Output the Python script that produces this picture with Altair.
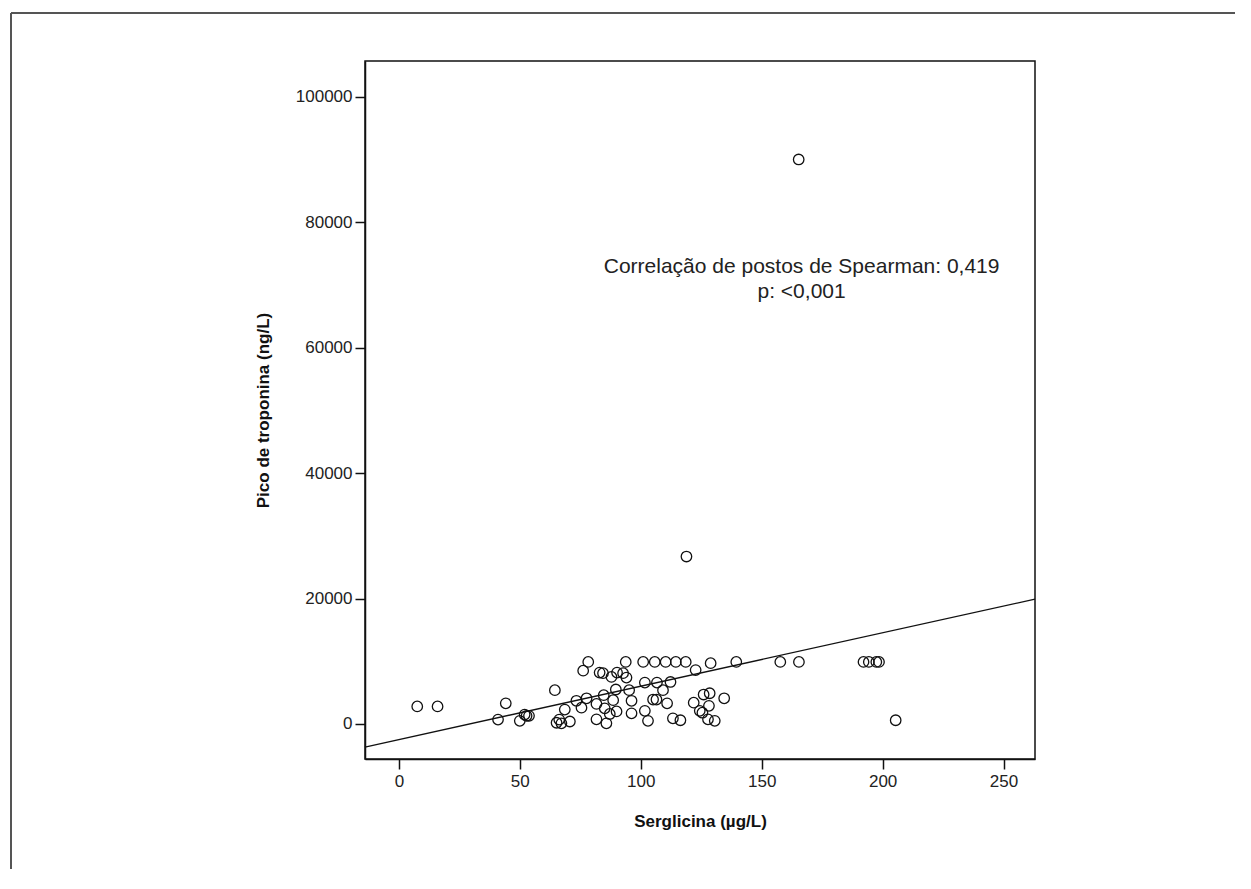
import altair as alt
import pandas as pd

# Serglicina (µg/L)
serglicina = [7.6, 16, 41, 44.2, 50, 52, 52.8, 53.8, 64.5, 65.2, 66.3, 67.2, 68.6, 70.7,
              73.4, 75.5, 76.2, 77.6, 78.3, 81.7, 81.7, 83, 84.4, 84.7, 85.1, 85.8, 87.2,
              87.9, 88.6, 89.7, 90, 90.2, 92.7, 93.8, 94.1, 95.2, 96.2, 96.2, 101, 101.7,
              101.7, 103, 105.1, 105.8, 106.5, 106.7, 109.2, 110.3, 110.9, 112.3, 113.3,
              114.5, 116.4, 118.6, 118.9, 121.9, 122.7, 124.4, 125.5, 126, 127.8, 128.2,
              128.5, 128.9, 130.6, 134.5, 139.5, 157.7, 165.3, 165.4, 192.1, 194.3, 197.4,
              198.5, 205.4]
# Pico de troponina (ng/L)
troponina = [2800, 2800, 700, 3300, 500, 1500, 1300, 1300, 5400, 200, 700, 100, 2300, 400,
             3700, 2600, 8500, 4100, 9900, 3200, 750, 8200, 8100, 4600, 2500, 100, 1600,
             7500, 3800, 5500, 2000, 8200, 8100, 9900, 7400, 5400, 3700, 1700, 9900, 6600,
             2100, 500, 3900, 9900, 3900, 6600, 5400, 9900, 3300, 6700, 900,
             9900, 600, 9900, 26700, 3400, 8600, 2100, 1800, 4700, 750, 2900,
             4900, 9700, 500, 4100, 9900, 9900, 90000, 9900, 9900, 9900, 9900,
             9900, 600]

# linear fit
fit_intercept = -2480
fit_slope = 85.1

x_domain = [-14, 263]
y_domain = [-5580, 105700]
x_ticks = [0, 50, 100, 150, 200, 250]
y_ticks = [0, 20000, 40000, 60000, 80000, 100000]

annot_lines = ["Correlação de postos de Spearman: 0,419", "p: <0,001"]
annot_x = 166.5
annot_y = [71900, 67900]

df = pd.DataFrame({"x": serglicina, "y": troponina})
fit_df = pd.DataFrame({"x": x_domain,
                       "y": [fit_intercept + fit_slope * v for v in x_domain]})
ann_df = pd.DataFrame({"x": [annot_x, annot_x], "y": annot_y, "t": annot_lines})

W, H = 670, 698
FONT = "Liberation Sans, Arial, sans-serif"

xs = alt.Scale(domain=x_domain, nice=False, zero=False)
ys = alt.Scale(domain=y_domain, nice=False, zero=False)

x_axis = alt.Axis(values=x_ticks, title="Serglicina (µg/L)", grid=False,
                  tickSize=10, labelPadding=4, titlePadding=24)
y_axis = alt.Axis(values=y_ticks, format="d", title="Pico de troponina (ng/L)",
                  grid=False, tickSize=10, labelPadding=3, titlePadding=23)

points = alt.Chart(df).mark_point(shape="circle", filled=False, size=110,
                                  color="#111", strokeWidth=1.3, opacity=1).encode(
    x=alt.X("x:Q", scale=xs, axis=x_axis),
    y=alt.Y("y:Q", scale=ys, axis=y_axis),
)

fit = alt.Chart(fit_df).mark_line(color="#111", strokeWidth=1.3).encode(
    x=alt.X("x:Q", scale=xs), y=alt.Y("y:Q", scale=ys))

ann = alt.Chart(ann_df).mark_text(font=FONT, fontSize=21, color="#222",
                                  align="center", baseline="alphabetic").encode(
    x=alt.X("x:Q", scale=xs), y=alt.Y("y:Q", scale=ys), text="t:N")

frame_top = alt.Chart(pd.DataFrame({"a": [0]})).mark_rule(
    color="#555", strokeWidth=2).encode(
    x=alt.value(-354), x2=alt.value(900), y=alt.value(-48))
frame_left = alt.Chart(pd.DataFrame({"a": [0]})).mark_rule(
    color="#555", strokeWidth=2).encode(
    x=alt.value(-354), y=alt.value(-48), y2=alt.value(900))

chart = alt.layer(frame_top, frame_left, fit, points, ann).properties(
    width=W, height=H,
    background="white",
    autosize=alt.AutoSizeParams(type="none"),
    padding={"left": 357, "top": 53, "right": 200, "bottom": 110},
).configure_view(stroke="#111", strokeWidth=1.5).configure_axis(
    domainColor="#111", domainWidth=1.5, tickColor="#111", tickWidth=1.5,
    labelFont=FONT, labelFontSize=17, labelColor="#222",
    titleFont=FONT, titleFontSize=17, titleFontWeight="bold", titleColor="#111",
)

chart.save("out.html", embed_options={"renderer": "svg", "actions": False})
